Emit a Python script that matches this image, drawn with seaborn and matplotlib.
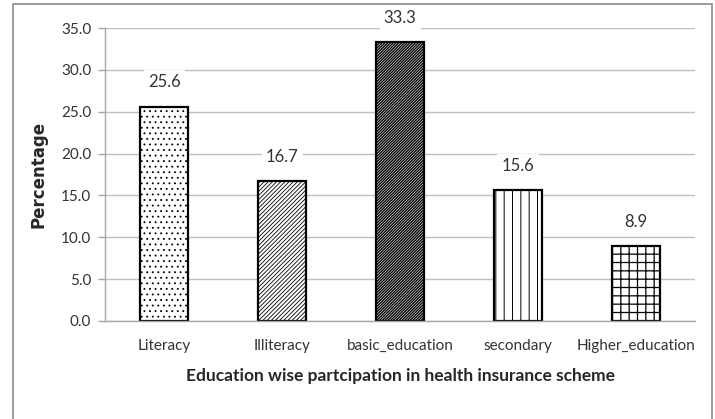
import matplotlib
matplotlib.use("Agg")
import matplotlib.pyplot as plt
import seaborn as sns
import pandas as pd
from matplotlib.patches import Rectangle

categories = ["Literacy", "Illiteracy", "basic_education", "secondary", "Higher_education"]
values = [25.6, 16.7, 33.3, 15.6, 8.9]
hatches = ["...", "/" * 8, "/" * 12, "||", "++"]
hatch_widths = [0.6, 0.6, 1.0, 0.7, 0.9]
yticks = [0, 5, 10, 15, 20, 25, 30, 35]

sns.set_theme(style="white")
plt.rcParams["font.family"] = ["Lato", "DejaVu Sans"]
plt.rcParams["hatch.linewidth"] = 0.6

df = pd.DataFrame({"cat": categories, "val": values})

fig = plt.figure(figsize=(7.15, 4.19), dpi=100)
ax = fig.add_axes([0.147, 0.234, 0.825, 0.699])

sns.barplot(data=df, x="cat", y="val", hue="cat", order=categories,
            palette=["white"] * len(categories), edgecolor="black",
            linewidth=1.6, width=0.40, legend=False, ax=ax, saturation=1)

for patch, h, hw in zip(ax.patches, hatches, hatch_widths):
    patch.set_hatch(h)
    patch.set_edgecolor("black")
    if hasattr(patch, "set_hatch_linewidth"):
        patch.set_hatch_linewidth(hw)

for cont in ax.containers:
    ax.bar_label(cont, fmt="%.1f", padding=12, fontsize=12, color="#333333",
                 bbox=dict(facecolor="white", edgecolor="none", pad=3))

ax.set_ylim(0, 35)
ax.set_yticks(yticks)
ax.set_yticklabels([f"{t:.1f}" for t in yticks], fontsize=11, color="#333333")
ax.set_xlim(-0.5, len(categories) - 0.5)
ax.tick_params(axis="x", labelsize=11, colors="#333333", length=0, pad=13)
ax.tick_params(axis="y", length=5, width=1, color="#A6A6A6", direction="out", left=True, pad=5)
ax.yaxis.grid(True, color="#BFBFBF", linewidth=1)
ax.set_axisbelow(True)
for s in ["top", "right"]:
    ax.spines[s].set_visible(False)
ax.spines["left"].set_color("#A6A6A6")
ax.spines["bottom"].set_color("#A6A6A6")
ax.spines["left"].set_linewidth(1)
ax.spines["bottom"].set_linewidth(1)

ax.set_xlabel("Education wise partcipation in health insurance scheme",
              fontsize=12.5, fontweight="bold", labelpad=11)
ax.set_ylabel("Percentage", fontsize=12, fontweight="bold", labelpad=10,
              family=["DejaVu Sans"])

fig.patches.append(Rectangle((13 / 715, -0.05), (712 - 13) / 715, 1.05 - 4 / 419,
                             transform=fig.transFigure, fill=False,
                             edgecolor="#8C8C8C", linewidth=1.2))

fig.savefig("out.png", dpi=100, facecolor="white")
